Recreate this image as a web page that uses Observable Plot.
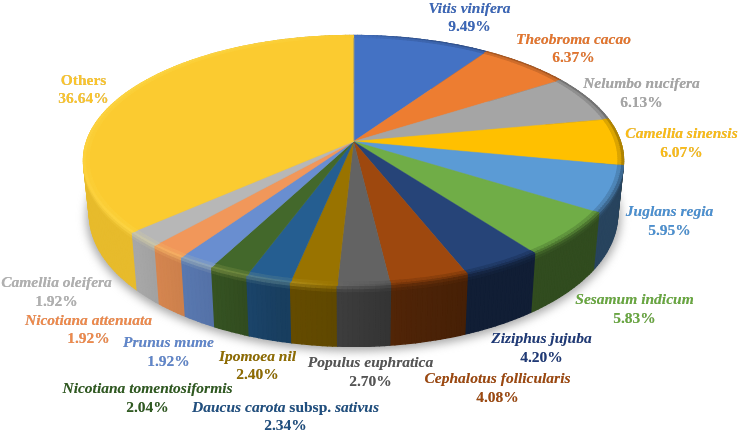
<!DOCTYPE html>
<html><head><meta charset="utf-8">
<script src="https://cdn.jsdelivr.net/npm/d3@7"></script>
<script src="https://cdn.jsdelivr.net/npm/@observablehq/plot@0.6"></script>
<style>html,body{margin:0;padding:0;background:#fff}svg{display:block}</style>
</head><body><div id="chart"></div>
<script>
// --- data ---
const species = ["Vitis vinifera","Theobroma cacao","Nelumbo nucifera","Camellia sinensis","Juglans regia","Sesamum indicum","Ziziphus jujuba","Cephalotus follicularis","Populus euphratica","Ipomoea nil","Daucus carota subsp. sativus","Nicotiana tomentosiformis","Prunus mume","Nicotiana attenuata","Camellia oleifera","Others"];
const percent = [9.49,6.37,6.13,6.07,5.95,5.83,4.20,4.08,2.70,2.40,2.34,2.04,1.92,1.92,1.92,36.64];
const percentLabels = ["9.49%","6.37%","6.13%","6.07%","5.95%","5.83%","4.20%","4.08%","2.70%","2.40%","2.34%","2.04%","1.92%","1.92%","1.92%","36.64%"];
const faceColors = ["#4472c4","#ed7d31","#a5a5a5","#ffc000","#5b9bd5","#70ad47","#264478","#9e480e","#636363","#997300","#255e91","#43682b","#698ed0","#f1975a","#b7b7b7","#fbcb30"];
const textColors = ["#3a66b8","#e6752c","#a5a5a5","#fcbc14","#4a90d2","#68a83f","#1f3a78","#9e480e","#555555","#8f6c00","#1f4f80","#2f5a20","#5f86cc","#f0894a","#b0b0b0","#fcc52a"];

// --- label layout: [centre x, name y, percent y] ---
const labelLayout = [[469,8,26],[573,39,57],[641,83,102],[681,133,152],[669,211,230],[634,299,318],[541,338,357],[497,378,397],[370,362,381],[257,356,374],[285,407,425],[147,388,407],[168,342,361],[88,320,338],[56,282,301],[83,80,98]];

// --- disc projection (perspective view of the pie) ---
const k = -0.152;
const topDisc = {cx:353, cy:141, a:266.9, b:122.1};
const botDisc = {cx:353, cy:193.9, a:261, b:128.9};
function P(theta, r, z) {
  const u = r*Math.sin(theta), v = -r*Math.cos(theta), w = 1 + k*v;
  const tx = topDisc.cx + topDisc.a*u/w, ty = topDisc.cy + topDisc.b*v/w;
  const bx = botDisc.cx + botDisc.a*u/w, by = botDisc.cy + botDisc.b*v/w;
  return {x: tx + (bx-tx)*z, y: ty + (by-ty)*z};
}
const total = d3.sum(percent);
const starts = [0, ...d3.cumsum(percent)].map(c => c/total*2*Math.PI);

// shading of the side and rim along the horizontal position
const sideShade = d3.scaleLinear().domain([83,130,213,280,340,400,470,622]).range([.92,.92,.8,.66,.62,.5,.44,.44]).clamp(true);
const rimTone = d3.scaleLinear().domain([83,130,220,300,345,400,622]).range([.2,.3,.3,.2,0,-.6,-.7]).clamp(true);
const mix = (a,b,t) => d3.interpolateRgb(a,b)(t);
const sideCol = (c,x) => mix("#000",c,sideShade(x));
const rimCol = (c,x) => { const h = rimTone(x); return h>=0 ? mix(c,"#fff080",h) : mix(c,sideCol(c,x),-h); };

const faces=[], sides=[], rims=[], shadow=[];
let id=0;
faceColors.forEach((c,i) => {
  const a0=starts[i], a1=starts[i+1], n=Math.max(2,Math.ceil((a1-a0)/(Math.PI/180)));
  const ts=d3.range(n+1).map(j=>a0+(a1-a0)*j/n);
  const fid=id++;
  faces.push({...P(0,0,0),id:fid,c});
  ts.forEach(t=>faces.push({...P(t,1,0),id:fid,c}));
  for(let j=0;j<n;j++){
    const t0=ts[j],t1=ts[j+1],tm=(t0+t1)/2,xm=P(tm,1,0).x;
    const quad=(r0,z0,r1,z1,col,arr,order)=>{const q=id++;[[t0,r0,z0],[t1,r0,z0],[t1,r1,z1],[t0,r1,z1]].forEach(([t,r,z])=>arr.push({...P(t,r,z),id:q,c:col,order}));};
    const s=sideCol(c,xm), rc=rimCol(c,xm), order=-Math.cos(tm);
    quad(1,0.1,1,1,s,sides,order);
    quad(1,0.05,1,0.1,mix(rc,s,.8),sides,order);
    quad(1,0,1,0.05,mix(rc,s,.4),sides,order);
    quad(.99,0,1,0,mix(c,rc,.8),rims,order);
    quad(.98,0,.99,0,mix(c,rc,.35),rims,order);
  }
});
d3.range(0,361,3).forEach(d=>shadow.push(P(d*Math.PI/180,1.012,1.04)));
const sideRows=d3.groups(sides,d=>d.id).sort((a,b)=>a[1][0].order-b[1][0].order).flatMap(g=>g[1]);

const labels=species.map((s,i)=>({name:s,pct:percentLabels[i],color:textColors[i],x:labelLayout[i][0],y1:labelLayout[i][1],y2:labelLayout[i][2]}));
const poly=(rows,o={})=>Plot.line(rows,{x:"x",y:"y",z:"id",fill:"c",stroke:"c",strokeWidth:.5,curve:"linear-closed",...o});
const font={fontFamily:"Liberation Serif",fontWeight:"bold",fontSize:15.5,textAnchor:"middle",lineAnchor:"middle",imageFilter:"drop-shadow(.6px .8px .7px rgba(90,90,90,.45))"};

const plot=Plot.plot({
  width:740,height:433,margin:0,
  x:{domain:[0,740],range:[0,740],axis:null},
  y:{domain:[0,433],range:[0,433],axis:null},
  color:{type:"identity"},
  style:{background:"#fff"},
  marks:[
    Plot.line(shadow,{x:"x",y:"y",fill:"#8a8a8a",stroke:"none",curve:"linear-closed",imageFilter:"blur(5px)",fillOpacity:.75}),
    poly(sideRows,{strokeWidth:1.4,imageFilter:"blur(.5px)"}),
    poly(faces),
    poly(rims,{strokeWidth:1.2,imageFilter:"blur(.7px)"}),
    Plot.text(labels,{...font,x:"x",y:"y1",text:"name",fill:"color",fontStyle:"italic",filter:d=>d.name!=="Others"}),
    Plot.text(labels,{...font,x:"x",y:"y1",text:"name",fill:"color",filter:d=>d.name==="Others"}),
    Plot.text(labels,{...font,x:"x",y:"y2",text:"pct",fill:"color"})
  ]
});
// "subsp." is set upright inside the italic name
d3.select(plot).selectAll("text").filter(function(){return this.textContent.includes("subsp.");}).each(function(){
  const t=d3.select(this); t.text("");
  t.append("tspan").text("Daucus carota ");
  t.append("tspan").attr("font-style","normal").text("subsp. ");
  t.append("tspan").text("sativus");
});
document.getElementById("chart").append(plot);
</script></body></html>
